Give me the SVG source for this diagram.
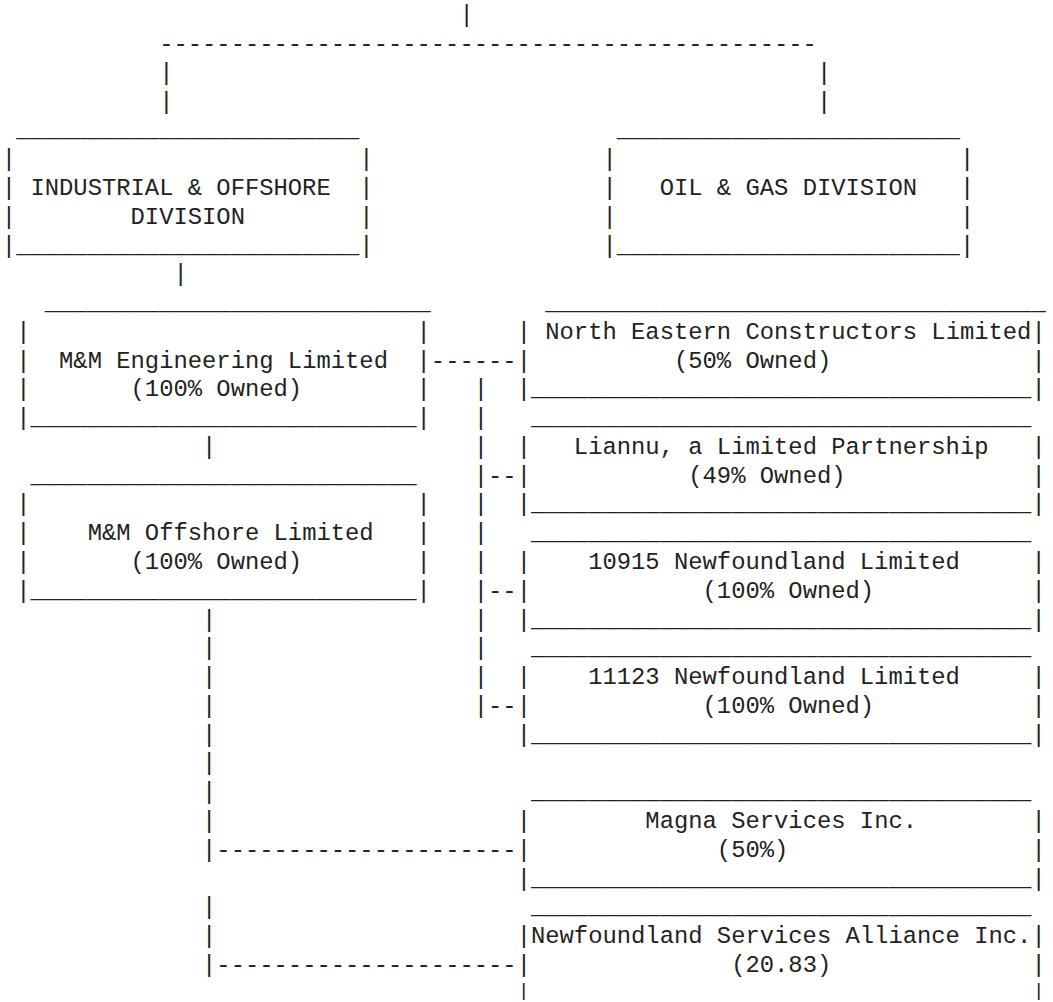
<svg xmlns="http://www.w3.org/2000/svg" width="1053" height="1002" viewBox="0 0 1053 1002" xml:space="preserve">
<style>
text { font-family: "Liberation Mono", "Courier New", monospace; font-size: 23.83px; fill: #222; white-space: pre; }
text.end { font-size: 19px; }
</style>
<rect width="1053" height="1002" fill="#ffffff"/>
<g id="connectors">
<text x="459.45" y="22.4">|</text>
<text x="159.15" y="51.17">----------------------------------------------</text>
<text x="159.15" y="79.94">|</text><text x="816.95" y="79.94">|</text>
<text x="159.15" y="108.71">|</text><text x="816.95" y="108.71">|</text>
<text x="173.45" y="281.33">|</text>
<text x="430.85" y="367.64">------</text>
<text x="473.75" y="396.41">|</text>
<text x="473.75" y="425.18">|</text>
<text x="473.75" y="453.95">|</text>
<text x="473.75" y="482.72">|--</text>
<text x="473.75" y="511.49">|</text>
<text x="473.75" y="540.26">|</text>
<text x="473.75" y="569.03">|</text>
<text x="473.75" y="597.8">|--</text>
<text x="473.75" y="626.57">|</text>
<text x="473.75" y="655.34">|</text>
<text x="473.75" y="684.11">|</text>
<text x="473.75" y="712.88">|--</text>
<text x="202.05" y="453.95">|</text>
<text x="202.05" y="626.57">|</text>
<text x="202.05" y="655.34">|</text>
<text x="202.05" y="684.11">|</text>
<text x="202.05" y="712.88">|</text>
<text x="202.05" y="741.65">|</text>
<text x="202.05" y="770.42">|</text>
<text x="202.05" y="799.19">|</text>
<text x="202.05" y="827.96">|</text>
<text x="202.05" y="856.73">|---------------------</text>
<text x="202.05" y="914.27">|</text>
<text x="202.05" y="943.04">|</text>
<text x="202.05" y="971.81">|---------------------</text>
</g>
<g id="node-industrial">
<text x="16.15" y="137.48">________________________</text>
<text x="1.85" y="166.25">|</text><text x="359.35" y="166.25">|</text>
<text x="1.85" y="195.02">|</text><text x="30.45" y="195.02">INDUSTRIAL &amp; OFFSHORE</text><text x="359.35" y="195.02">|</text>
<text x="1.85" y="223.79">|</text><text x="130.55" y="223.79">DIVISION</text><text x="359.35" y="223.79">|</text>
<text x="1.85" y="252.56">|________________________|</text>
</g>
<g id="node-oilgas">
<text x="616.75" y="137.48">________________________</text>
<text x="602.45" y="166.25">|</text><text x="959.95" y="166.25">|</text>
<text x="602.45" y="195.02">|</text><text x="659.65" y="195.02">OIL &amp; GAS DIVISION</text><text x="959.95" y="195.02">|</text>
<text x="602.45" y="223.79">|</text><text x="959.95" y="223.79">|</text>
<text x="602.45" y="252.56">|________________________|</text>
</g>
<g id="node-mm-engineering">
<text x="44.75" y="310.1">___________________________</text>
<text x="16.15" y="338.87">|</text><text x="416.55" y="338.87">|</text>
<text x="16.15" y="367.64">|</text><text x="59.05" y="367.64">M&amp;M Engineering Limited</text><text x="416.55" y="367.64">|</text>
<text x="16.15" y="396.41">|</text><text x="130.55" y="396.41">(100% Owned)</text><text x="416.55" y="396.41">|</text>
<text x="16.15" y="425.18">|___________________________|</text>
</g>
<g id="node-north-eastern">
<text x="545.25" y="310.1">___________________________________</text>
<text x="516.65" y="338.87">|</text><text x="545.25" y="338.87">North Eastern Constructors Limited</text><text x="1031.45" y="338.87">|</text>
<text x="516.65" y="367.64">|</text><text x="673.95" y="367.64">(50% Owned)</text><text x="1031.45" y="367.64">|</text>
<text x="516.65" y="396.41">|___________________________________|</text>
</g>
<g id="node-liannu">
<text x="530.95" y="425.18">___________________________________</text>
<text x="516.65" y="453.95">|</text><text x="573.85" y="453.95">Liannu, a Limited Partnership</text><text x="1031.45" y="453.95">|</text>
<text x="516.65" y="482.72">|</text><text x="688.25" y="482.72">(49% Owned)</text><text x="1031.45" y="482.72">|</text>
<text x="516.65" y="511.49">|___________________________________|</text>
</g>
<g id="node-mm-offshore">
<text x="30.45" y="482.72">___________________________</text>
<text x="16.15" y="511.49">|</text><text x="416.55" y="511.49">|</text>
<text x="16.15" y="540.26">|</text><text x="87.65" y="540.26">M&amp;M Offshore Limited</text><text x="416.55" y="540.26">|</text>
<text x="16.15" y="569.03">|</text><text x="130.55" y="569.03">(100% Owned)</text><text x="416.55" y="569.03">|</text>
<text x="16.15" y="597.8">|___________________________|</text>
</g>
<g id="node-10915">
<text x="530.95" y="540.26">___________________________________</text>
<text x="516.65" y="569.03">|</text><text x="588.15" y="569.03">10915 Newfoundland Limited</text><text x="1031.45" y="569.03">|</text>
<text x="516.65" y="597.8">|</text><text x="702.55" y="597.8">(100% Owned)</text><text x="1031.45" y="597.8">|</text>
<text x="516.65" y="626.57">|___________________________________|</text>
</g>
<g id="node-11123">
<text x="530.95" y="655.34">___________________________________</text>
<text x="516.65" y="684.11">|</text><text x="588.15" y="684.11">11123 Newfoundland Limited</text><text x="1031.45" y="684.11">|</text>
<text x="516.65" y="712.88">|</text><text x="702.55" y="712.88">(100% Owned)</text><text x="1031.45" y="712.88">|</text>
<text x="516.65" y="741.65">|___________________________________|</text>
</g>
<g id="node-magna">
<text x="530.95" y="799.19">___________________________________</text>
<text x="516.65" y="827.96">|</text><text x="645.35" y="827.96">Magna Services Inc.</text><text x="1031.45" y="827.96">|</text>
<text x="516.65" y="856.73">|</text><text x="716.85" y="856.73">(50%)</text><text x="1031.45" y="856.73">|</text>
<text x="516.65" y="885.5">|___________________________________|</text>
</g>
<g id="node-nsa">
<text x="530.95" y="914.27">___________________________________</text>
<text x="516.65" y="943.04">|Newfoundland Services Alliance Inc.|</text>
<text x="516.65" y="971.81">|</text><text x="731.15" y="971.81">(20.83)</text><text x="1031.45" y="971.81">|</text>
<text class="end" x="518.1" y="995.6">|</text><text class="end" x="1032.9" y="995.6">|</text>
</g>
</svg>
